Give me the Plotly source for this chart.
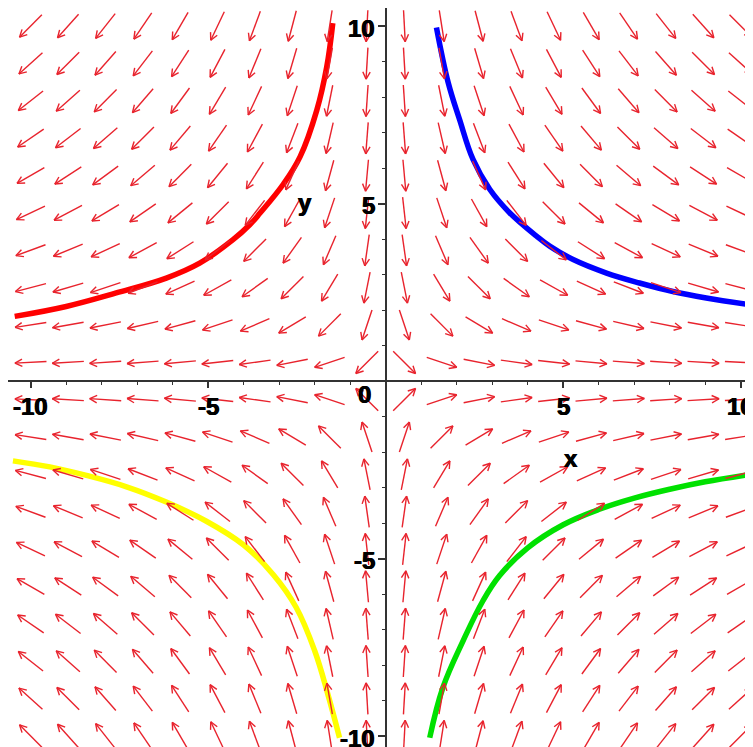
import numpy as np
import plotly.graph_objects as go

# ---- direction field: dx/dt = x, dy/dt = -y, sampled on a 20 x 20 grid ----
GRID_X = np.linspace(-10, 10, 20)
GRID_Y = np.linspace(-10, 10, 20)

# ---- solution curves ----
red_x = [-10.45, -9.0, -7.59, -6.18, -5.24, -4.30, -3.83, -3.54, -2.88, -2.41, -1.94, -1.66, -1.49]
red_y = [1.82, 2.10, 2.48, 2.90, 3.32, 3.98, 4.40, 4.73, 5.55, 6.32, 7.63, 8.85, 10.08]

blue_x = [1.43, 1.76, 2.08, 2.46, 2.93, 3.49, 4.25, 4.62, 5.28, 6.22, 7.15, 8.09, 9.03, 10.34]
blue_y = [9.96, 8.41, 7.37, 6.24, 5.40, 4.74, 4.08, 3.80, 3.42, 3.04, 2.76, 2.52, 2.34, 2.14]

yellow_x = [-10.5, -9.46, -8.43, -7.30, -6.18, -5.05, -4.00, -3.17, -2.52, -2.00, -1.63, -1.30]
yellow_y = [-2.25, -2.42, -2.66, -2.98, -3.41, -3.95, -4.62, -5.45, -6.38, -7.60, -8.82, -10.05]

green_x = [1.24, 1.61, 2.18, 2.74, 3.21, 4.0, 5.0, 6.0, 7.0, 8.0, 9.0, 10.34]
green_y = [-10.05, -8.64, -7.32, -6.19, -5.48, -4.70, -4.05, -3.62, -3.30, -3.05, -2.84, -2.62]

# ---- axis ticks / labels ----
x_tick_vals = [-10, -5, 5, 10]
x_tick_text = ["-10", "-5", "5", "10"]
y_tick_vals = [10, 5, -5, -10]
y_tick_text = ["10", "5", "-5", "-10"]

# the page body adds an 8px offset; ranges chosen so the axes land where the reference has them
XMIN, XMAX = -10.639, 10.572
YMIN, YMAX = -10.535, 10.507

ARROW_LEN = 0.89
HEAD_LEN = 0.23
HEAD_ANG = np.radians(27)

ax_x, ax_y = [], []
for gx in GRID_X:
    for gy in GRID_Y:
        u, v = gx, -gy
        n = np.hypot(u, v)
        u, v = u / n, v / n
        x0, y0 = gx - u * ARROW_LEN / 2, gy - v * ARROW_LEN / 2
        x1, y1 = gx + u * ARROW_LEN / 2, gy + v * ARROW_LEN / 2
        ax_x += [x0, x1, None]
        ax_y += [y0, y1, None]
        a, b = -u, -v
        for s in (1, -1):
            t = s * HEAD_ANG
            rx = a * np.cos(t) - b * np.sin(t)
            ry = a * np.sin(t) + b * np.cos(t)
            ax_x += [x1, x1 + HEAD_LEN * rx, None]
            ax_y += [y1, y1 + HEAD_LEN * ry, None]

fig = go.Figure()
for xs, ys, col in [(red_x, red_y, "rgb(255,0,0)"),
                    (blue_x, blue_y, "rgb(0,0,255)"),
                    (yellow_x, yellow_y, "rgb(255,255,0)"),
                    (green_x, green_y, "rgb(0,225,0)")]:
    fig.add_trace(go.Scatter(x=xs, y=ys, mode="lines",
                             line=dict(color=col, width=5.5, shape="spline", smoothing=1.1),
                             hoverinfo="skip"))

fig.add_trace(go.Scatter(x=ax_x, y=ax_y, mode="lines",
                         line=dict(color="rgb(232,35,45)", width=1.4), hoverinfo="skip"))

AX_COL = "#333333"
FONT = dict(family="Liberation Sans, Arial, sans-serif", size=24, color="black", weight="bold",
            shadow="0.5px 0 0 black, -0.5px 0 0 black")

fig.update_layout(
    width=753, height=747,
    margin=dict(l=0, r=0, t=0, b=0),
    plot_bgcolor="white", paper_bgcolor="white",
    showlegend=False,
    xaxis=dict(range=[XMIN, XMAX], anchor="free", position=(0 - YMIN) / (YMAX - YMIN),
               showline=True, linecolor=AX_COL, linewidth=2,
               ticks="outside", tick0=0, dtick=5, ticklen=6, tickwidth=1.5, tickcolor=AX_COL,
               minor=dict(ticks="outside", dtick=1, tick0=0, ticklen=3, tickwidth=1.2, tickcolor=AX_COL),
               showticklabels=False, showgrid=False, zeroline=False),
    yaxis=dict(range=[YMIN, YMAX], anchor="free", position=(0 - XMIN) / (XMAX - XMIN), side="left",
               showline=True, linecolor=AX_COL, linewidth=2,
               ticks="outside", tick0=0, dtick=5, ticklen=7, tickwidth=1.5, tickcolor=AX_COL,
               minor=dict(ticks="outside", dtick=1, tick0=0, ticklen=3, tickwidth=1.2, tickcolor=AX_COL),
               showticklabels=False, showgrid=False, zeroline=False),
)

ann = []
for v, t in zip(x_tick_vals, x_tick_text):
    ann.append(dict(x=v, y=0, xref="x", yref="y", text=t, showarrow=False, font=FONT,
                    xanchor="center", yanchor="middle", yshift=-25))
for v, t in zip(y_tick_vals, y_tick_text):
    ann.append(dict(x=0, y=v, xref="x", yref="y", text=t, showarrow=False, font=FONT,
                    xanchor="right", yanchor="middle", xshift=-9, yshift=-2))
ann.append(dict(x=0, y=0, xref="x", yref="y", text="0", showarrow=False, font=FONT,
                xanchor="center", yanchor="middle", xshift=-21, yshift=-13))
ann.append(dict(x=5.21, y=-2.18, xref="x", yref="y", text="x", showarrow=False, font=FONT,
                xanchor="center", yanchor="middle"))
ann.append(dict(x=-2.27, y=5.04, xref="x", yref="y", text="y", showarrow=False, font=FONT,
                xanchor="center", yanchor="middle"))
fig.update_layout(annotations=ann)

fig.write_html("out.html")
